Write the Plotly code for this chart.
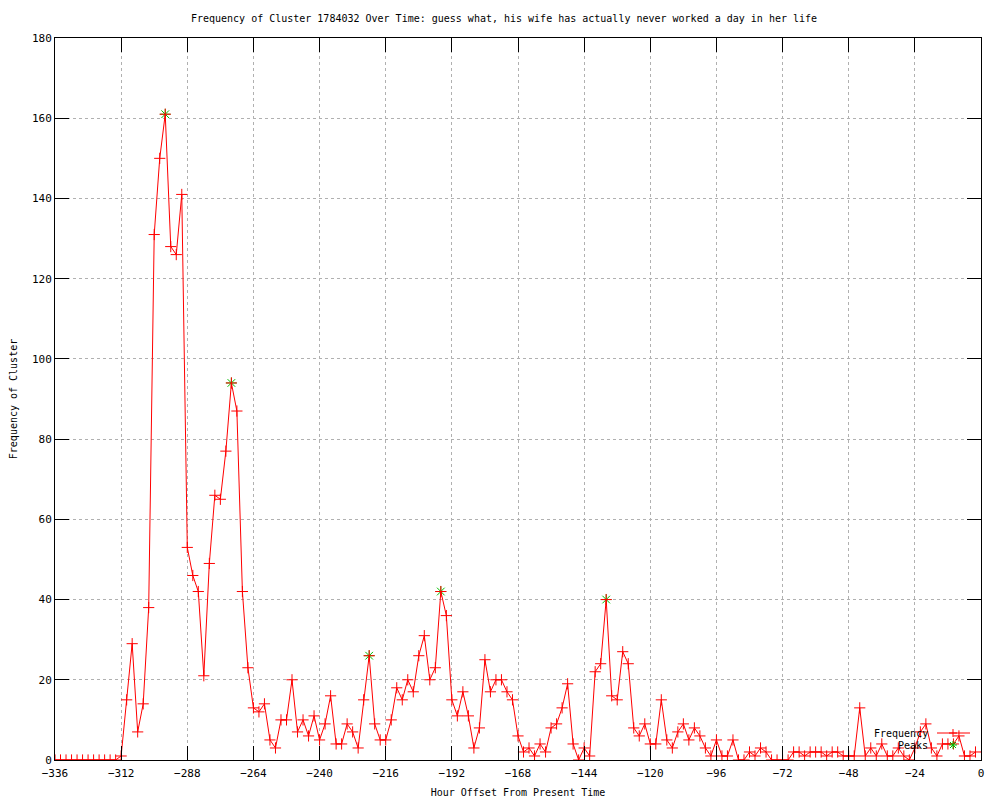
import plotly.graph_objects as go

# ---- data ----
hours = list(range(-336, 0, 2))
frequency = [
    0, 0, 0, 0, 0, 0, 0, 0, 0, 0, 0, 0,          # -336 .. -314
    1, 15, 29, 7, 14, 38, 131, 150, 161, 128,    # -312 .. -294
    126, 141, 53, 46, 42, 21, 49, 66, 65, 77,    # -292 .. -274
    94, 87, 42, 23, 13, 12, 14, 5, 3, 10,        # -272 .. -254
    10, 20, 7, 10, 6, 11, 5, 9, 16, 4,           # -252 .. -234
    4, 9, 7, 3, 15, 26, 9, 5, 5, 10,             # -232 .. -214
    18, 15, 20, 17, 26, 31, 20, 23, 42, 36,      # -212 .. -194
    15, 11, 17, 11, 3, 8, 25, 17, 20, 20,        # -192 .. -174
    17, 15, 6, 2, 3, 1, 4, 2, 8, 9,              # -172 .. -154
    13, 19, 4, 0, 3, 1, 22, 24, 40, 16,          # -152 .. -134
    15, 27, 24, 8, 6, 9, 4, 4, 15, 5,            # -132 .. -114
    3, 7, 9, 5, 8, 6, 3, 1, 5, 1,                # -112 .. -94
    1, 5, 0, 0, 2, 1, 3, 2, 0, 0,                # -92 .. -74
    0, 0, 2, 2, 1, 2, 2, 2, 1, 2,                # -72 .. -54
    2, 1, 1, 1, 13, 1, 3, 1, 4, 1,               # -52 .. -34
    1, 3, 1, 0, 3, 7, 9, 3, 1, 4,                # -32 .. -14
    4, 4, 6, 1, 1, 2,                            # -12 .. -2
]
assert len(hours) == len(frequency)

peak_hours = [-296, -272, -222, -196, -136]
peak_values = [frequency[hours.index(h)] for h in peak_hours]

title_text = ("Frequency of Cluster 1784032 Over Time: guess what, "
              "his wife has actually never worked a day in her life")
x_label = "Hour Offset From Present Time"
y_label = "Frequency of Cluster"
x_ticks = list(range(-336, 1, 24))
y_ticks = list(range(0, 181, 20))

RED = "#ff0000"
GREEN = "#00c000"
FONT = "DejaVu Sans Mono"

# ---- figure geometry (page body has an 8px margin) ----
OFF = 8
W, H = 1000 - OFF, 800 - OFF
# plot area in window coords: x 55..981, y 38..760
L = 55 - OFF
T = 38 - OFF
R = W - (981 - OFF)
B = H - (760 - OFF)
PW, PH = W - L - R, H - T - B


def px(x):
    """window pixel x -> paper x"""
    return (x - OFF - L) / PW


def py(y):
    """window pixel y -> paper y"""
    return (H - B - (y - OFF)) / PH


fig = go.Figure()

fig.add_trace(go.Scatter(
    x=peak_hours, y=peak_values, mode="markers", name="Peaks",
    marker=dict(symbol="asterisk-open", size=9, color=GREEN,
                line=dict(color=GREEN, width=1)),
    hoverinfo="x+y", showlegend=False,
))
fig.add_trace(go.Scatter(
    x=hours, y=frequency, mode="lines+markers", name="Frequency",
    line=dict(color=RED, width=1),
    marker=dict(symbol="cross-thin-open", size=8, color=RED,
                line=dict(color=RED, width=1)),
    showlegend=False,
))

# ---- gnuplot-style key (text left of sample) ----
shapes = []
annotations = []
key_items = [("Frequency", 733, True, RED), ("Peaks", 745, False, GREEN)]
for label, yk, has_line, col in key_items:
    annotations.append(dict(
        x=px(930), y=py(yk), xref="paper", yref="paper", text=label,
        showarrow=False, xanchor="right", yanchor="middle",
        font=dict(family=FONT, size=10, color="black"),
    ))
    cx, cy = 953, yk
    if has_line:
        shapes.append(dict(type="line", xref="paper", yref="paper",
                           x0=px(937), x1=px(970), y0=py(yk), y1=py(yk),
                           line=dict(color=col, width=1)))
        segs = [((-4, 0), (4, 0)), ((0, -4), (0, 4))]
    else:
        segs = [((-4, 0), (4, 0)), ((0, -4), (0, 4)),
                ((-3, -3), (3, 3)), ((-3, 3), (3, -3))]
    for (a, b), (c, d) in segs:
        shapes.append(dict(type="line", xref="paper", yref="paper",
                           x0=px(cx + a), y0=py(cy + b),
                           x1=px(cx + c), y1=py(cy + d),
                           line=dict(color=col, width=1)))

axis_common = dict(
    showline=True, linecolor="black", linewidth=1, mirror="ticks",
    ticks="inside", ticklen=14, tickcolor="black", tickwidth=1,
    showgrid=True, gridcolor="#b0b0b0", griddash="dot", gridwidth=1,
    zeroline=False, tickfont=dict(family=FONT, size=11, color="black"),
    automargin=False,
)

fig.update_layout(
    width=W, height=H,
    margin=dict(l=L, r=R, t=T, b=B),
    paper_bgcolor="white", plot_bgcolor="white",
    title=dict(text=title_text, x=0.5, xanchor="center",
               y=1 - (18 - OFF) / H, yanchor="middle", yref="container",
               font=dict(family=FONT, size=10, color="black")),
    xaxis=dict(range=[-336, 0], tickvals=x_ticks, ticklabelstandoff=3,
               title=dict(text=x_label, standoff=9,
                          font=dict(family=FONT, size=10, color="black")),
               **axis_common),
    yaxis=dict(range=[0, 180], tickvals=y_ticks,
               title=dict(text=y_label, standoff=12,
                          font=dict(family=FONT, size=10, color="black")),
               **axis_common),
    shapes=shapes, annotations=annotations,
    showlegend=False,
)

fig.write_html("out.html")
